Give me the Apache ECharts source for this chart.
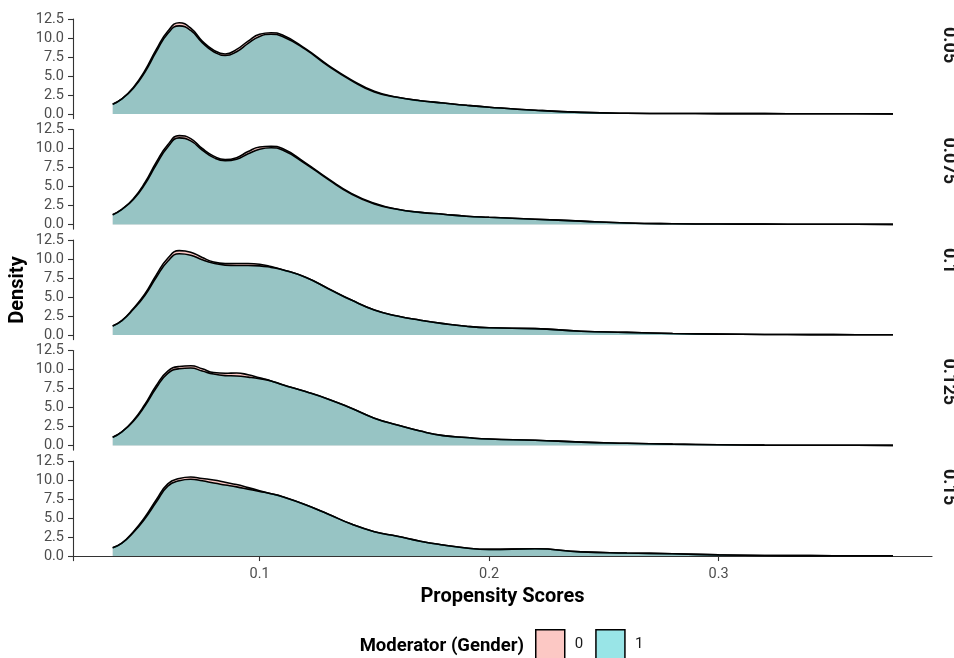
<!DOCTYPE html>
<html>
<head>
<meta charset="utf-8">
<script src="https://cdn.jsdelivr.net/npm/echarts@6/dist/echarts.min.js"></script>
<style>
html,body{margin:0;padding:0;background:#fff;}
#chart{width:954px;height:658px;}
</style>
</head>
<body>
<div id="chart"></div>
<script>
// Propensity score grid (x)
const xs = [0.036,0.04,0.045,0.05,0.055,0.06,0.065,0.07,0.075,0.08,0.085,0.09,0.095,0.1,0.105,0.11,0.12,0.13,0.14,0.15,0.16,0.17,0.18,0.19,0.2,0.22,0.24,0.26,0.28,0.3,0.32,0.34,0.36,0.376];
const panelLabels = ['0.05','0.075','0.1','0.125','0.15'];
const groupNames = ['0','1'];
const xTicks = [0.1,0.2,0.3];
const yTicks = [0,2.5,5,7.5,10,12.5];

// Density, Moderator (Gender) = 0
const g0_p1 = [1.3,2.0,3.5,5.7,8.5,10.9,12.0,11.3,9.6,8.4,7.9,8.5,9.6,10.5,10.7,10.4,8.6,6.4,4.5,3.0,2.2,1.75,1.45,1.15,0.9,0.5,0.22,0.1,0.07,0.06,0.05,0.04,0.03,0.02];
const g0_p2 = [1.3,2.0,3.4,5.5,8.2,10.5,11.7,11.3,10.0,9.0,8.55,8.8,9.6,10.2,10.3,10.0,8.1,6.0,4.1,2.8,2.0,1.6,1.35,1.1,0.95,0.7,0.45,0.2,0.1,0.07,0.05,0.04,0.03,0.02];
const g0_p3 = [1.2,1.9,3.5,5.4,7.9,10.1,11.1,10.9,10.2,9.6,9.4,9.4,9.4,9.3,9.0,8.6,7.6,6.1,4.6,3.3,2.5,1.95,1.5,1.15,0.95,0.85,0.5,0.35,0.2,0.12,0.08,0.06,0.04,0.03];
const g0_p4 = [1.1,1.8,3.3,5.4,7.9,9.8,10.4,10.5,10.1,9.6,9.5,9.55,9.3,8.9,8.5,8.0,7.1,6.1,4.9,3.6,2.7,1.9,1.3,1.05,0.85,0.7,0.45,0.3,0.18,0.1,0.05,0.04,0.03,0.02];
const g0_p5 = [1.1,1.7,3.2,5.1,7.4,9.5,10.2,10.4,10.2,10.0,9.7,9.4,9.0,8.6,8.2,7.8,6.75,5.5,4.2,3.2,2.6,1.95,1.45,1.05,0.88,0.95,0.55,0.4,0.3,0.15,0.07,0.05,0.04,0.03];

// Density, Moderator (Gender) = 1
const g1_p1 = [1.3,2.0,3.4,5.5,8.2,10.6,11.6,11.0,9.4,8.2,7.7,8.2,9.3,10.2,10.5,10.2,8.5,6.3,4.4,2.9,2.2,1.75,1.45,1.15,0.9,0.5,0.22,0.1,0.07,0.06,0.05,0.04,0.03,0.02];
const g1_p2 = [1.3,2.0,3.3,5.3,7.9,10.2,11.4,11.0,9.8,8.8,8.4,8.6,9.3,9.9,10.1,9.8,8.0,5.9,4.0,2.7,2.0,1.6,1.35,1.1,0.95,0.7,0.45,0.2,0.1,0.07,0.05,0.04,0.03,0.02];
const g1_p3 = [1.2,1.9,3.4,5.2,7.6,9.7,10.7,10.5,9.9,9.45,9.2,9.15,9.15,9.1,8.9,8.6,7.6,6.1,4.6,3.3,2.5,1.95,1.5,1.15,0.95,0.85,0.5,0.35,0.2,0.12,0.08,0.06,0.04,0.03];
const g1_p4 = [1.1,1.8,3.2,5.2,7.6,9.5,10.1,10.2,9.8,9.4,9.2,9.15,9.0,8.8,8.5,8.0,7.1,6.1,4.9,3.6,2.7,1.9,1.3,1.05,0.85,0.7,0.45,0.3,0.18,0.1,0.05,0.04,0.03,0.02];
const g1_p5 = [1.1,1.7,3.1,4.9,7.1,9.2,9.9,10.1,9.9,9.6,9.35,9.1,8.8,8.5,8.2,7.8,6.75,5.5,4.2,3.2,2.6,1.95,1.45,1.05,0.88,0.95,0.55,0.4,0.3,0.15,0.07,0.05,0.04,0.03];

const group0 = [g0_p1,g0_p2,g0_p3,g0_p4,g0_p5];
const group1 = [g1_p1,g1_p2,g1_p3,g1_p4,g1_p5];

const FONT = 'Roboto';
const fills = ['rgba(248,118,109,0.4)','rgba(0,191,196,0.4)'];
const legendFills = ['#FCC8C4','#99E5E7'];

const grids = [], xAxes = [], yAxes = [], series = [], graphics = [];
const PANEL_TOP = 19, PANEL_STEP = 110.5, PANEL_H = 99.6;

for (let i = 0; i < 5; i++) {
  const last = i === 4;
  grids.push({left: 73, right: 22, top: PANEL_TOP + PANEL_STEP * i, height: PANEL_H});
  xAxes.push({
    type: 'value', gridIndex: i, min: 0.0187, max: 0.393,
    show: last,
    axisLine: {show: true, lineStyle: {color: '#333', width: 1.1}},
    axisTick: {show: true, customValues: xTicks, length: 5, lineStyle: {color: '#333', width: 1.1}},
    axisLabel: {show: true, customValues: xTicks, formatter: v => v.toFixed(1), color: '#4D4D4D', fontSize: 14.5, fontFamily: FONT, margin: 6},
    splitLine: {show: false},
    name: last ? 'Propensity Scores' : '',
    nameLocation: 'middle', nameGap: 26,
    nameTextStyle: {fontSize: 20, fontWeight: 'bold', color: '#000', fontFamily: FONT}
  });
  yAxes.push({
    type: 'value', gridIndex: i, min: -0.6, max: 12.5,
    axisLine: {show: true, lineStyle: {color: '#333', width: 1.1}},
    axisTick: {show: true, customValues: yTicks, length: 5, lineStyle: {color: '#333', width: 1.1}},
    axisLabel: {show: true, customValues: yTicks, formatter: v => v.toFixed(1), color: '#4D4D4D', fontSize: 14.5, fontFamily: FONT, margin: 9},
    splitLine: {show: false}
  });
  [group0[i], group1[i]].forEach((arr, g) => {
    series.push({
      type: 'line', name: groupNames[g], xAxisIndex: i, yAxisIndex: i,
      data: xs.map((x, j) => [x, arr[j]]),
      smooth: 0.5, symbol: 'none', silent: true,
      itemStyle: {color: legendFills[g]},
      lineStyle: {color: '#000', width: 1.6},
      areaStyle: {color: fills[g], opacity: 1},
      z: 2 + g
    });
  });
  graphics.push({
    type: 'text', x: 948, y: 27 + PANEL_STEP * i, rotation: -Math.PI / 2,
    style: {text: panelLabels[i], font: 'bold 18px ' + FONT, fill: '#1A1A1A', textAlign: 'left', textVerticalAlign: 'middle'}
  });
}

graphics.push({
  type: 'text', x: 18, y: 290, rotation: Math.PI / 2,
  style: {text: 'Density', font: 'bold 20px ' + FONT, fill: '#000', textAlign: 'center', textVerticalAlign: 'middle'}
});
graphics.push({
  type: 'text', x: 524, y: 646,
  style: {text: 'Moderator (Gender)', font: 'bold 18.5px ' + FONT, fill: '#000', textAlign: 'right', textVerticalAlign: 'middle'}
});

const chart = echarts.init(document.getElementById('chart'), null, {renderer: 'canvas'});
chart.setOption({
  animation: false,
  backgroundColor: '#fff',
  grid: grids, xAxis: xAxes, yAxis: yAxes, series: series,
  legend: {
    left: 535, top: 629, padding: 0, itemWidth: 29, itemHeight: 29, itemGap: 12,
    selectedMode: false,
    textStyle: {fontSize: 15, color: '#1A1A1A', fontFamily: FONT, padding: [0, 0, 0, 5]},
    data: groupNames.map((n, g) => ({name: n, icon: 'rect', itemStyle: {color: legendFills[g], borderColor: '#000', borderWidth: 1.5}}))
  },
  graphic: graphics
});
</script>
</body>
</html>
